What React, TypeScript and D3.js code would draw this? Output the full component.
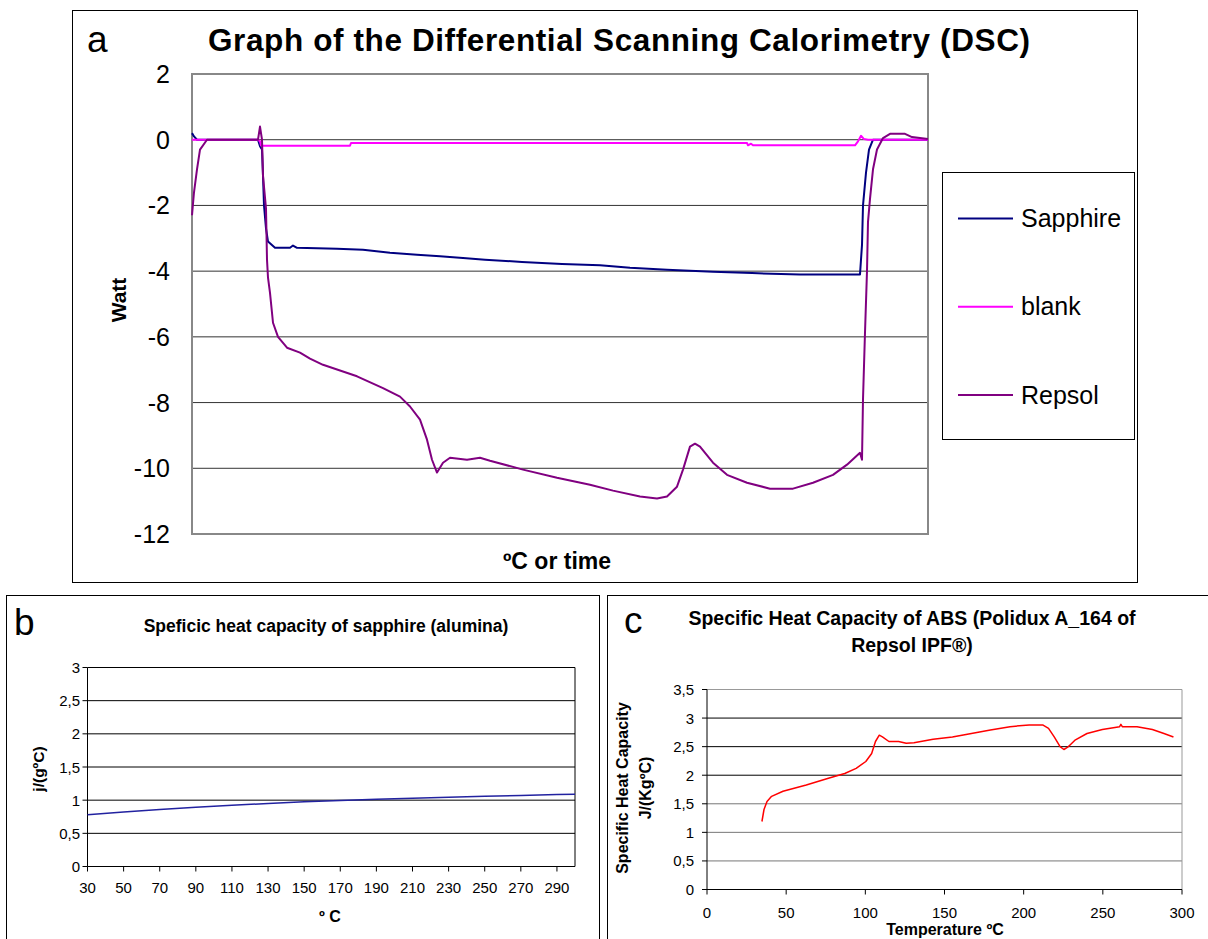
import React from 'react'
import * as d3 from 'd3'

const FONT = '"Liberation Sans", Arial, Helvetica, sans-serif'

// ---- panel a: DSC signal, x = position along the run, y = Watt
const dscYTicks = [2, 0, -2, -4, -6, -8, -10, -12]
const dscGrid = [0, -2, -4, -6, -8, -10]
const dscSeries = ['Sapphire', 'blank', 'Repsol']
const dscColors = ['#000080', '#ff00ff', '#800080']

const sapphireDsc: [number, number][] = [
  [0, 0.2], [2, 0.1], [5, 0], [66, 0], [68, -0.2], [70, -0.3], [71, -1.1], [72, -2.0], [74, -2.7],
  [76, -3.1], [83, -3.29], [98, -3.29], [101, -3.22], [105, -3.29], [145, -3.32], [171, -3.35],
  [198, -3.44], [225, -3.5], [248, -3.55], [271, -3.6], [293, -3.65], [330, -3.72], [370, -3.78],
  [408, -3.82], [438, -3.9], [475, -3.96], [521, -4.02], [560, -4.06], [608, -4.1], [668, -4.1],
  [670, -3.2], [671, -2.0], [674, -1.0], [677, -0.3], [681, 0], [736, 0],
]
const blankDsc: [number, number][] = [
  [0, 0], [66, 0], [68, -0.05], [69, -0.18], [158, -0.18], [159, -0.1], [555, -0.1], [556, -0.17],
  [559, -0.12], [561, -0.17], [663, -0.17], [666, -0.05], [669, 0.12], [672, 0.02], [676, 0], [736, 0],
]
const repsolDsc: [number, number][] = [
  [0, -2.3], [2, -1.6], [5, -0.9], [8, -0.3], [15, 0], [66, 0], [68, 0.4], [70, 0], [71, -1.1],
  [74, -2.1], [75, -3.65], [76, -4.2], [78, -4.66], [81, -5.57], [86, -6.0], [95, -6.33],
  [108, -6.48], [118, -6.66], [131, -6.85], [165, -7.2], [191, -7.56], [208, -7.82], [218, -8.12],
  [228, -8.52], [235, -9.13], [240, -9.74], [245, -10.13], [251, -9.83], [258, -9.68], [275, -9.74],
  [288, -9.68], [298, -9.77], [331, -10.04], [365, -10.29], [398, -10.5], [421, -10.68],
  [448, -10.86], [465, -10.92], [475, -10.86], [485, -10.56], [491, -10.04], [498, -9.34],
  [503, -9.25], [508, -9.34], [521, -9.83], [535, -10.2], [555, -10.44], [578, -10.62],
  [601, -10.62], [621, -10.44], [641, -10.2], [655, -9.89], [668, -9.53], [670, -9.74],
  [671, -7.9], [673, -5.87], [675, -4.0], [676, -2.5], [678, -1.8], [681, -0.9], [685, -0.3],
  [691, 0.05], [698, 0.18], [713, 0.18], [720, 0.08], [736, 0.02],
]

// ---- panel b: sapphire reference
const sapphireTemp = [30, 50, 70, 90, 110, 130, 150, 170, 190, 210, 230, 250, 270, 290, 300]
const sapphireCp = [0.78, 0.82, 0.86, 0.895, 0.925, 0.95, 0.975, 0.995, 1.015, 1.03, 1.045, 1.06, 1.07, 1.085, 1.09]
const bXTicks = [30, 50, 70, 90, 110, 130, 150, 170, 190, 210, 230, 250, 270, 290]
const bYTicks = [0, 0.5, 1, 1.5, 2, 2.5, 3]

// ---- panel c: ABS
const absTemp = [
  34.7, 36, 37.9, 40.8, 48, 62.7, 77.2, 87, 94.2, 100.3, 104, 106.4, 108.8, 110.8, 114.9, 121,
  125.8, 130.7, 142.8, 155, 167, 179, 191.4, 203.5, 212, 215.7, 219.3, 223, 225.4, 227.8, 232.7,
  240, 249.7, 260.6, 261.4, 262.3, 271.6, 281.3, 288.6, 294.6,
]
const absCp = [
  1.19, 1.4, 1.54, 1.63, 1.72, 1.83, 1.95, 2.03, 2.12, 2.24, 2.38, 2.59, 2.7, 2.67, 2.59, 2.59,
  2.56, 2.57, 2.63, 2.67, 2.73, 2.79, 2.85, 2.88, 2.88, 2.82, 2.67, 2.5, 2.45, 2.49, 2.62,
  2.73, 2.8, 2.85, 2.89, 2.85, 2.85, 2.8, 2.73, 2.67,
]
const cXTicks = [0, 50, 100, 150, 200, 250, 300]
const cYTicks = [0, 0.5, 1, 1.5, 2, 2.5, 3, 3.5]

const comma = (v: number) => String(v).replace('.', ',')

function PanelA() {
  const x = d3.scaleLinear().domain([0, 736]).range([192, 928])
  const y = d3.scaleLinear().domain([-12, 2]).range([534, 74])
  const line = d3.line<[number, number]>().x((d) => x(d[0])).y((d) => y(d[1]))
  const legendY = d3.scalePoint<string>().domain(dscSeries).range([218.5, 395])
  const all = [sapphireDsc, blankDsc, repsolDsc]

  return (
    <g fontFamily={FONT}>
      <rect x={72.5} y={10.5} width={1065} height={572} fill="#fff" stroke="#000" />
      <text x={87} y={52} fontSize={37}>a</text>
      <text x={619} y={51} fontSize={31.5} fontWeight="bold" textAnchor="middle"
        textLength={822} lengthAdjust="spacing">
        Graph of the Differential Scanning Calorimetry (DSC)
      </text>
      {dscGrid.map((v) => (
        <line key={v} x1={x(0)} x2={x(736)} y1={y(v)} y2={y(v)} stroke="#333" strokeWidth={1} />
      ))}
      <rect x={x(0)} y={y(2)} width={x(736) - x(0)} height={y(-12) - y(2)} fill="none"
        stroke="#888" strokeWidth={2} />
      {dscYTicks.map((v) => (
        <text key={v} x={170} y={y(v) + 9} fontSize={25} textAnchor="end">{v}</text>
      ))}
      <text transform="translate(126,300) rotate(-90)" fontSize={21} fontWeight="bold"
        textAnchor="middle">Watt</text>
      <text x={557} y={569} fontSize={23} fontWeight="bold" textAnchor="middle">ºC or time</text>
      {all.map((s, i) => (
        <path key={i} d={line(s) || ''} fill="none" stroke={dscColors[i]} strokeWidth={2}
          strokeLinejoin="round" />
      ))}
      <rect x={942.5} y={172.5} width={192} height={267} fill="#fff" stroke="#000" />
      {dscSeries.map((name, i) => (
        <g key={name}>
          <line x1={958} x2={1013} y1={legendY(name)} y2={legendY(name)} stroke={dscColors[i]}
            strokeWidth={2} />
          <text x={1021} y={(legendY(name) || 0) + 8.5} fontSize={25}>{name}</text>
        </g>
      ))}
    </g>
  )
}

function PanelB() {
  const x = d3.scaleLinear().domain([30, 300]).range([87.5, 575])
  const y = d3.scaleLinear().domain([0, 3]).range([866.5, 667.5])
  const line = d3.line<number>().x((d) => x(d)).y((_, i) => y(sapphireCp[i]))

  return (
    <g fontFamily={FONT}>
      <rect x={6.5} y={595.5} width={593} height={360} fill="#fff" stroke="#000" />
      <text x={14} y={635} fontSize={37}>b</text>
      <text x={326} y={632} fontSize={17.5} fontWeight="bold" textAnchor="middle">
        Speficic heat capacity of sapphire (alumina)
      </text>
      {bYTicks.filter((v) => v > 0).map((v) => (
        <line key={v} x1={x(30)} x2={x(300)} y1={y(v)} y2={y(v)} stroke="#000" />
      ))}
      <line x1={x(300)} x2={x(300)} y1={y(3)} y2={y(0)} stroke="#000" />
      <line x1={x(30)} x2={x(30)} y1={y(3)} y2={y(0)} stroke="#000" />
      <line x1={x(30)} x2={x(300)} y1={y(0)} y2={y(0)} stroke="#000" />
      {bYTicks.map((v) => (
        <g key={v}>
          <line x1={x(30) - 5} x2={x(30)} y1={y(v)} y2={y(v)} stroke="#000" />
          <text x={80} y={y(v) + 5.5} fontSize={15} textAnchor="end">{comma(v)}</text>
        </g>
      ))}
      {bXTicks.map((v) => (
        <g key={v}>
          <line x1={x(v)} x2={x(v)} y1={y(0)} y2={y(0) + 5} stroke="#000" />
          <text x={x(v)} y={893} fontSize={15} textAnchor="middle">{v}</text>
        </g>
      ))}
      <text x={330} y={922} fontSize={16} fontWeight="bold" textAnchor="middle">º C</text>
      <text transform="translate(44,769) rotate(-90)" fontSize={15.5} fontWeight="bold"
        textAnchor="middle">j/(gºC)</text>
      <path d={line(sapphireTemp) || ''} fill="none" stroke="#2222a0" strokeWidth={1.5} />
    </g>
  )
}

function PanelC() {
  const x = d3.scaleLinear().domain([0, 300]).range([707, 1182])
  const y = d3.scaleLinear().domain([0, 3.5]).range([889.5, 689.5])
  const line = d3.line<number>().x((d) => x(d)).y((_, i) => y(absCp[i]))

  return (
    <g fontFamily={FONT}>
      <rect x={607.5} y={595.5} width={610} height={360} fill="#fff" stroke="#000" />
      <text x={624} y={633} fontSize={37}>c</text>
      <text x={912} y={625} fontSize={19.5} fontWeight="bold" textAnchor="middle">
        Specific Heat Capacity of ABS (Polidux A_164 of
      </text>
      <text x={912} y={652} fontSize={19.5} fontWeight="bold" textAnchor="middle">
        Repsol IPF®)
      </text>
      {cYTicks.filter((v) => v > 0 && v < 3.5).map((v) => (
        <line key={v} x1={x(0)} x2={x(300)} y1={y(v)} y2={y(v)} stroke={v >= 2 ? '#000' : '#777'} />
      ))}
      <line x1={x(0)} x2={x(300)} y1={y(3.5)} y2={y(3.5)} stroke="#999" />
      <line x1={x(300)} x2={x(300)} y1={y(3.5)} y2={y(0)} stroke="#999" />
      <line x1={x(0)} x2={x(0)} y1={y(3.5)} y2={y(0)} stroke="#000" />
      <line x1={x(0)} x2={x(300)} y1={y(0)} y2={y(0)} stroke="#000" />
      {cYTicks.map((v) => (
        <g key={v}>
          <line x1={x(0) - 5} x2={x(0)} y1={y(v)} y2={y(v)} stroke="#000" />
          <text x={694} y={y(v) + 5.5} fontSize={15} textAnchor="end">{comma(v)}</text>
        </g>
      ))}
      {cXTicks.map((v) => (
        <g key={v}>
          <line x1={x(v)} x2={x(v)} y1={y(0)} y2={y(0) + 5} stroke="#000" />
          <text x={x(v)} y={918} fontSize={15} textAnchor="middle">{v}</text>
        </g>
      ))}
      <text x={945} y={935} fontSize={16} fontWeight="bold" textAnchor="middle">Temperature ºC</text>
      <text transform="translate(628,788) rotate(-90)" fontSize={16} fontWeight="bold"
        textAnchor="middle">Specific Heat Capacity</text>
      <text transform="translate(651,788) rotate(-90)" fontSize={16} fontWeight="bold"
        textAnchor="middle">J/(KgºC)</text>
      <path d={line(absTemp) || ''} fill="none" stroke="#ff0000" strokeWidth={1.5}
        strokeLinejoin="round" />
    </g>
  )
}

export default function App() {
  return (
    <svg width={1208} height={939} style={{ position: 'absolute', left: 0, top: 0, background: '#fff' }}>
      <rect width={1208} height={939} fill="#fff" />
      <PanelA />
      <PanelB />
      <PanelC />
    </svg>
  )
}
